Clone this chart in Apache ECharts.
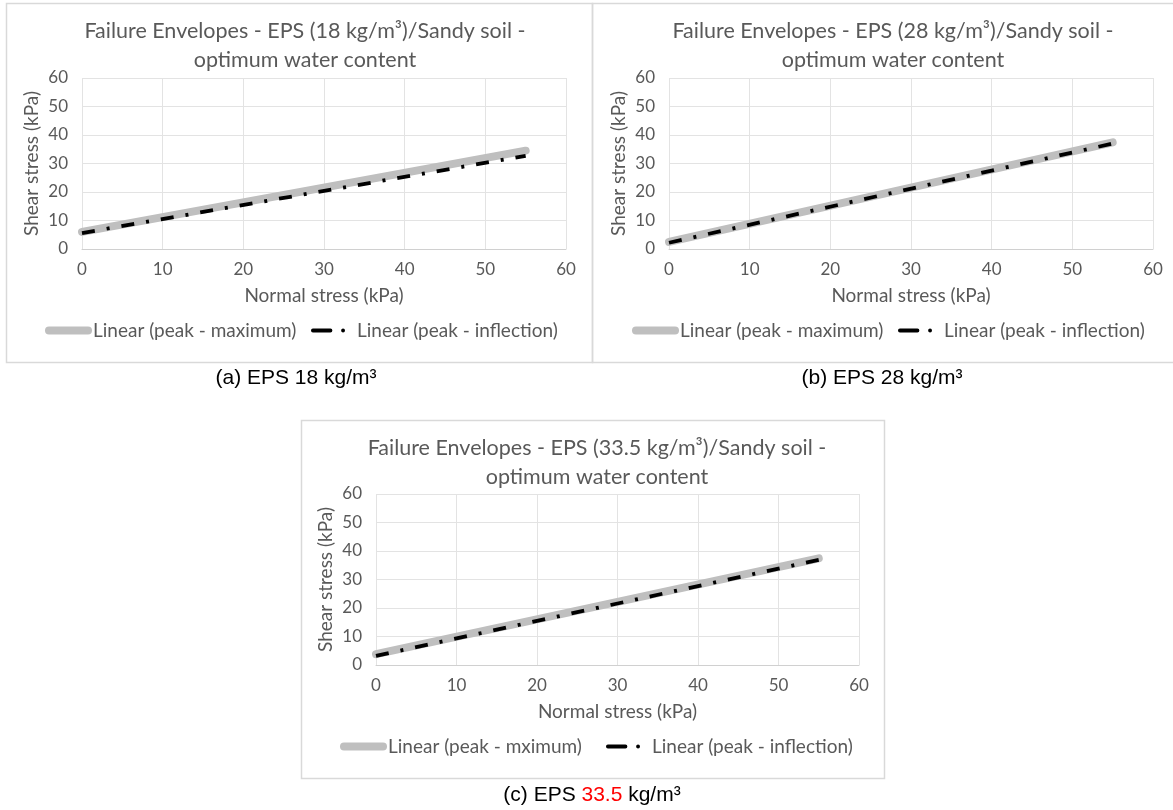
<!DOCTYPE html>
<html>
<head>
<meta charset="utf-8">
<script src="https://cdn.jsdelivr.net/npm/echarts@6/dist/echarts.min.js"></script>
<style>
html,body{margin:0;padding:0;background:#fff;}
#main{width:1173px;height:810px;}
</style>
</head>
<body>
<div id="main"></div>
<script>
// ---- Data ----
const xValues = [0, 55];
const xTicks = [0, 10, 20, 30, 40, 50, 60];
const yTicks = [0, 10, 20, 30, 40, 50, 60];

const titleA = 'Failure Envelopes - EPS (18 kg/m³)/Sandy soil -\noptimum water content';
const titleB = 'Failure Envelopes - EPS (28 kg/m³)/Sandy soil -\noptimum water content';
const titleC = 'Failure Envelopes - EPS (33.5 kg/m³)/Sandy soil -\noptimum water content';

const nameMaxA = 'Linear (peak - maximum)';
const nameInfA = 'Linear (peak - inflection)';
const nameMaxB = 'Linear (peak - maximum) ';
const nameInfB = 'Linear (peak - inflection) ';
const nameMaxC = 'Linear (peak - mximum)';
const nameInfC = 'Linear (peak - inflection)  ';

const peakMaxA = [6.0, 34.5];
const peakInfA = [5.6, 32.7];
const peakMaxB = [2.5, 37.4];
const peakInfB = [2.2, 37.0];
const peakMaxC = [3.8, 37.4];
const peakInfC = [3.2, 36.9];

const captionA = '(a) EPS 18 kg/m³';
const captionB = '(b) EPS 28 kg/m³';
const captionC = ['(c) EPS ', '33.5', ' kg/m³'];

// ---- Styles ----
const GRAY_TXT = '#595959';
const TFONT = 'Lato';
const pairs = (ys) => xValues.map((x, i) => [x, ys[i]]);

const grids = [
  {left: 82, right: 1173 - 566, top: 78, bottom: 810 - 249},
  {left: 669, right: 1173 - 1153, top: 78, bottom: 810 - 249},
  {left: 376, right: 1173 - 859, top: 494, bottom: 810 - 665}
];

function xAx(i) {
  return {
    type: 'value', gridIndex: i, min: 0, max: 60, interval: 10,
    name: 'Normal stress (kPa)', nameLocation: 'middle', nameGap: 37,
    nameTextStyle: {color: GRAY_TXT, fontSize: 19, fontFamily: TFONT},
    axisLine: {show: true, lineStyle: {color: '#d0d0d0', width: 1}},
    axisTick: {show: false},
    axisLabel: {color: GRAY_TXT, fontSize: 17, fontFamily: TFONT, margin: 12},
    splitLine: {show: true, lineStyle: {color: '#e3e3e3', width: 1}}
  };
}
function yAx(i) {
  return {
    type: 'value', gridIndex: i, min: 0, max: 60, interval: 10,
    name: 'Shear stress (kPa)', nameLocation: 'middle', nameGap: 41,
    nameTextStyle: {color: GRAY_TXT, fontSize: 19, fontFamily: TFONT},
    axisLine: {show: false},
    axisTick: {show: false},
    axisLabel: {color: GRAY_TXT, fontSize: 17, fontFamily: TFONT, margin: 14},
    splitLine: {show: true, lineStyle: {color: '#e3e3e3', width: 1}}
  };
}
function sMax(name, data, i) {
  return {
    type: 'line', name: name, xAxisIndex: i, yAxisIndex: i, data: pairs(data),
    showSymbol: false, symbol: 'none', silent: true, z: 2,
    lineStyle: {color: '#bfbfbf', width: 8, cap: 'round'},
    itemStyle: {color: '#bfbfbf'}
  };
}
function sInf(name, data, i) {
  return {
    type: 'line', name: name, xAxisIndex: i, yAxisIndex: i, data: pairs(data),
    showSymbol: false, symbol: 'none', silent: true, z: 3,
    lineStyle: {color: '#000', width: 3.8, type: [13, 12, 3, 12], cap: 'butt'},
    itemStyle: {color: '#000'}
  };
}
const GRAY_ICON = 'path://M4,0H43A4,4,0,0,1,43,8H4A4,4,0,0,1,4,0Z';
const DASH_ICON = 'path://M1,0H19A1,1,0,0,1,19,4H1A1,1,0,0,1,1,0Z M32,0A2,2,0,1,1,32,4A2,2,0,1,1,32,0Z';

function legGray(name, left) {
  return {
    data: [{name: name, icon: GRAY_ICON}], left: left, top: 0, selectedMode: false,
    itemWidth: 47, itemHeight: 8, itemGap: 0,
    textStyle: {color: GRAY_TXT, fontSize: 19, fontFamily: TFONT, padding: [0, 0, 0, -4]}
  };
}
function legDash(name, left) {
  return {
    data: [{name: name, icon: DASH_ICON}], left: left, top: 0, selectedMode: false,
    itemWidth: 34, itemHeight: 4, itemGap: 0,
    textStyle: {color: GRAY_TXT, fontSize: 19, fontFamily: TFONT, padding: [0, 0, 0, 7]}
  };
}
function title(t, cx, top) {
  return {
    text: t, left: cx, top: top, textAlign: 'center',
    textStyle: {color: GRAY_TXT, fontSize: 21.5, fontWeight: 'normal', fontFamily: TFONT, lineHeight: 29}
  };
}

const legends = [
  legGray(nameMaxA, 40), legDash(nameInfA, 306),
  legGray(nameMaxB, 627), legDash(nameInfB, 893),
  legGray(nameMaxC, 335), legDash(nameInfC, 601)
];
const legTops = [316, 316, 316, 316, 732, 732];
legends.forEach((l, i) => { l.top = legTops[i]; });

const option = {
  animation: false,
  backgroundColor: '#fff',
  title: [title(titleA, 300, 12), title(titleB, 888, 12), title(titleC, 592, 429)],
  grid: grids,
  xAxis: [xAx(0), xAx(1), xAx(2)],
  yAxis: [yAx(0), yAx(1), yAx(2)],
  legend: legends,
  series: [
    sMax(nameMaxA, peakMaxA, 0), sInf(nameInfA, peakInfA, 0),
    sMax(nameMaxB, peakMaxB, 1), sInf(nameInfB, peakInfB, 1),
    sMax(nameMaxC, peakMaxC, 2), sInf(nameInfC, peakInfC, 2)
  ],
  graphic: [
    {type: 'rect', shape: {x: 6.5, y: 3.5, width: 586, height: 359}, style: {fill: 'none', stroke: '#d9d9d9', lineWidth: 1.5}, z: -1},
    {type: 'rect', shape: {x: 592.5, y: 3.5, width: 590, height: 359}, style: {fill: 'none', stroke: '#d9d9d9', lineWidth: 1.5}, z: -1},
    {type: 'rect', shape: {x: 301.5, y: 420.5, width: 583, height: 358}, style: {fill: 'none', stroke: '#d9d9d9', lineWidth: 1.5}, z: -1},
    {type: 'text', x: 296, y: 378, style: {text: captionA, fill: '#000', font: '21px "Liberation Sans"', align: 'center', verticalAlign: 'middle'}},
    {type: 'text', x: 882, y: 378, style: {text: captionB, fill: '#000', font: '21px "Liberation Sans"', align: 'center', verticalAlign: 'middle'}},
    {type: 'text', x: 592, y: 795, style: {
      text: '{b|' + captionC[0] + '}{r|' + captionC[1] + '}{b|' + captionC[2] + '}',
      align: 'center', verticalAlign: 'middle',
      rich: {
        b: {fill: '#000', fontSize: 21, fontFamily: 'Liberation Sans'},
        r: {fill: '#ff0000', fontSize: 21, fontFamily: 'Liberation Sans'}
      }
    }}
  ]
};

const chart = echarts.init(document.getElementById('main'), null, {renderer: 'canvas'});
chart.setOption(option);
</script>
</body>
</html>
